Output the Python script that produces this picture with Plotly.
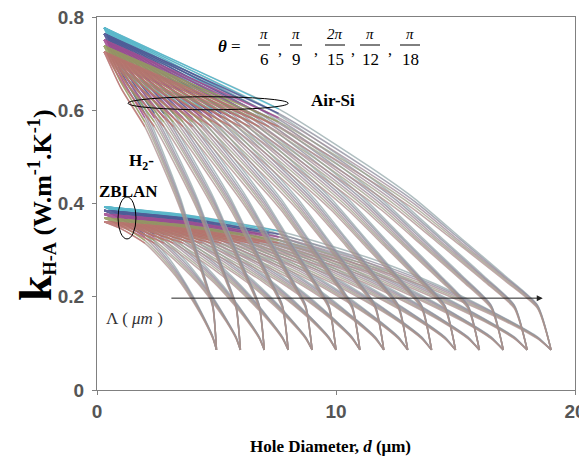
import plotly.graph_objects as go

# ---------------- data ----------------
LAMBDA_UM = [5, 6, 7, 8, 9, 10, 11, 12, 13, 14, 15, 16, 17, 18, 19]
THETA_LABELS = ["π/6", "π/9", "2π/15", "π/12", "π/18"]
D_START = 0.3                                   # first hole diameter (µm)
U_SAMPLES = [0.0, 0.2, 0.4, 0.6, 0.7, 0.8, 0.9, 0.97, 1.0]   # d / Λ

# k_H-A (W/m/K) of Air-Si at the d/Λ samples, one list per θ
AIR_SI_K = [
    [0.777, 0.694, 0.603, 0.479, 0.410, 0.327, 0.244, 0.182, 0.086],
    [0.764, 0.683, 0.593, 0.471, 0.404, 0.323, 0.241, 0.181, 0.086],
    [0.751, 0.671, 0.584, 0.464, 0.398, 0.318, 0.239, 0.179, 0.086],
    [0.738, 0.660, 0.575, 0.458, 0.392, 0.314, 0.236, 0.177, 0.086],
    [0.725, 0.648, 0.565, 0.450, 0.386, 0.310, 0.233, 0.175, 0.086],
]
# k_H-A of H2-ZBLAN at the same samples, one list per θ
H2_ZBLAN_K = [
    [0.393, 0.375, 0.341, 0.283, 0.246, 0.203, 0.153, 0.114, 0.086],
    [0.385, 0.368, 0.334, 0.277, 0.242, 0.200, 0.152, 0.113, 0.086],
    [0.377, 0.361, 0.328, 0.272, 0.238, 0.197, 0.150, 0.112, 0.086],
    [0.369, 0.353, 0.321, 0.267, 0.234, 0.194, 0.149, 0.111, 0.086],
    [0.361, 0.346, 0.315, 0.262, 0.230, 0.191, 0.147, 0.110, 0.086],
]

# saturated colours (dense start region) and muted ones (single strands)
COLORS = ["#18b4d4", "#26308c", "#a4288f", "#8f9a46", "#c0605c"]
MUTED = ["#96a9ac", "#8c8c9c", "#a08a98", "#9e9f8a", "#ad8f8e"]
START_SEGMENT = 3          # number of leading samples drawn in the saturated colour

fig = go.Figure()


def add_family(k_table, name):
    for ti, ks in enumerate(k_table):
        xs, ys, xs0, ys0 = [], [], [], []
        for lam in LAMBDA_UM:
            for j, (u, k) in enumerate(zip(U_SAMPLES, ks)):
                d = D_START if u == 0 else u * lam
                xs.append(d)
                ys.append(k)
                if j < START_SEGMENT:
                    xs0.append(d)
                    ys0.append(k)
            xs.append(None)
            ys.append(None)
            xs0.append(None)
            ys0.append(None)
        fig.add_trace(go.Scatter(
            x=xs, y=ys, mode="lines", name=f"{name} θ={THETA_LABELS[ti]}",
            line=dict(color=MUTED[ti], width=1.5, shape="spline", smoothing=0.6),
            opacity=0.75, showlegend=False, hoverinfo="skip"))
        fig.add_trace(go.Scatter(
            x=xs0, y=ys0, mode="lines", name=f"{name} θ={THETA_LABELS[ti]} start",
            line=dict(color=COLORS[ti], width=1.5, shape="spline", smoothing=0.6),
            opacity=0.55, showlegend=False, hoverinfo="skip"))


add_family(H2_ZBLAN_K, "H2-ZBLAN")
add_family(AIR_SI_K, "Air-Si")

SERIF = "Liberation Serif, Times New Roman, serif"
SANS = "Liberation Sans, Arial, sans-serif"

axis_common = dict(showline=True, linecolor="#808080", linewidth=1, mirror=True,
                   ticks="outside", ticklen=4, tickcolor="#808080",
                   showgrid=False, zeroline=False, automargin=False,
                   ticklabeloverflow="allow",
                   tickfont=dict(family=SANS, size=19, color="#555555"))

# the page body adds an 8px offset, so the figure is 8px smaller than the window
fig.update_layout(
    width=579, height=456,
    margin=dict(l=89, r=12, t=9, b=74),
    paper_bgcolor="white", plot_bgcolor="white",
    xaxis=dict(range=[0, 20], tickvals=[0, 10, 20],
               ticktext=["<b>0</b>", "<b>10</b>", "<b>20</b>"], **axis_common),
    yaxis=dict(range=[0, 0.8], tickvals=[0, 0.2, 0.4, 0.6, 0.8],
               ticktext=["<b>0</b>", "<b>0.2</b>", "<b>0.4</b>", "<b>0.6</b>", "<b>0.8</b>"],
               ticklabelstandoff=4, **axis_common),
)

# plot area in window pixels
PLOT_L, PLOT_T, PLOT_W, PLOT_H = 97, 17, 478, 373


def px(x):
    return (x - PLOT_L) / PLOT_W


def py(y):
    return (PLOT_T + PLOT_H - y) / PLOT_H


def text_ann(text, x, y, size, color="black", **kw):
    d = dict(text=text, x=x, y=y, showarrow=False, xanchor="center", yanchor="middle",
             xref="paper", yref="paper",
             font=dict(family=SERIF, size=size, color=color))
    d.update(kw)
    return d


ann = []
# axis titles
ann.append(text_ann("<b>Hole Diameter, <i>d</i> (μm)</b>", px(330), py(447), 17))
ann.append(text_ann("<b><span style='font-size:46px'>k</span><sub>H-A</sub> (W.m<sup>-1</sup>.K<sup>-1</sup>)</b>",
                    px(35), py(205), 26, textangle=-90))

# theta formula
ann.append(text_ann("<b><i>θ</i></b> =", px(229), py(46), 17))
fracs = [("π", "6", 264), ("π", "9", 296), ("2π", "15", 335), ("π", "12", 370), ("π", "18", 410)]
shapes = []
for i, (num, den, cx) in enumerate(fracs):
    ann.append(text_ann(f"<i>{num}</i>", px(cx), py(34), 15))
    ann.append(text_ann(den, px(cx), py(60), 17))
    hw = 6 if len(den) == 1 else 10
    shapes.append(dict(type="line", xref="paper", yref="paper",
                       x0=px(cx - hw), x1=px(cx + hw), y0=py(45), y1=py(45),
                       line=dict(color="black", width=1)))
    if i < len(fracs) - 1:
        ann.append(text_ann(",", px((cx + fracs[i + 1][2]) / 2), py(50), 16))

# labels
ann.append(text_ann("<b>Air-Si</b>", px(333), py(100), 17))
ann.append(text_ann("<b>H<sub>2</sub>-</b>", px(141), py(162), 17))
ann.append(text_ann("<b>ZBLAN</b>", px(128), py(191), 17))
ann.append(text_ann("Λ ( <i>μm</i> )", px(104), py(318), 17, color="#333333", xanchor="left"))
# arrow along Λ
ann.append(dict(x=18.65, y=0.197, ax=3.05, ay=0.197, xref="x", yref="y", axref="x", ayref="y",
                text="", showarrow=True, arrowhead=2, arrowsize=1.2, arrowwidth=1,
                arrowcolor="#222222"))

# ellipses
shapes.append(dict(type="circle", xref="x", yref="y", x0=1.3, x1=8.0, y0=0.601, y1=0.629,
                   line=dict(color="black", width=1)))
shapes.append(dict(type="circle", xref="x", yref="y", x0=0.88, x1=1.63, y0=0.324, y1=0.414,
                   line=dict(color="black", width=1)))

fig.update_layout(annotations=ann, shapes=shapes)
fig.write_html("out.html")
